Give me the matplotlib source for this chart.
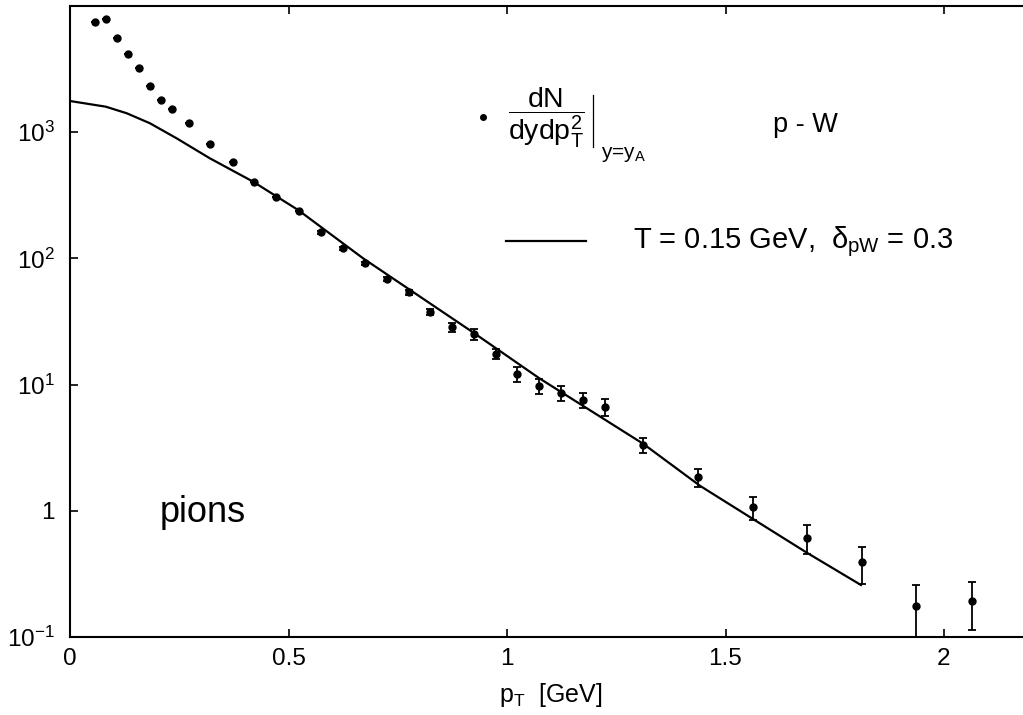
import matplotlib
matplotlib.use("Agg")
import matplotlib.pyplot as plt
from matplotlib.ticker import FixedLocator, FixedFormatter, NullLocator

plt.rcParams['font.family'] = ['Liberation Sans', 'DejaVu Sans']
plt.rcParams['mathtext.fontset'] = 'custom'
plt.rcParams['mathtext.rm'] = 'Liberation Sans'
plt.rcParams['mathtext.it'] = 'Liberation Sans'
plt.rcParams['mathtext.bf'] = 'Liberation Sans:bold'

# ---- data ----
pt_data = [0.057, 0.082, 0.107, 0.132, 0.159, 0.183, 0.208, 0.233, 0.272, 0.321,
           0.372, 0.422, 0.472, 0.523, 0.574, 0.625, 0.675, 0.725, 0.775, 0.824,
           0.873, 0.924, 0.975, 1.023, 1.074, 1.124, 1.173, 1.224, 1.312, 1.436,
           1.562, 1.687, 1.813, 1.937, 2.063]
dn_data = [7530, 7920, 5630, 4200, 3220, 2317, 1814, 1530, 1191, 807,
           578, 401, 305, 239, 161, 120, 91.4, 68.7, 53.8, 37.8,
           28.6, 25.0, 17.5, 12.2, 9.73, 8.51, 7.54, 6.67, 3.31, 1.84,
           1.06, 0.610, 0.389, 0.176, 0.192]
dn_err = [0, 0, 0, 0, 0, 0, 0, 0, 0, 0,
          0, 0, 0, 0, 4, 4, 3, 2.6, 2.2, 2.0,
          2.3, 2.3, 1.7, 1.65, 1.3, 1.15, 1.07, 1.0, 0.43, 0.31,
          0.22, 0.16, 0.127, 0.081, 0.08]

pt_theory = [0.0, 0.082, 0.130, 0.183, 0.244, 0.320, 0.419, 0.522, 0.671,
             0.923, 1.074, 1.312, 1.442, 1.564, 1.686, 1.810]
dn_theory = [1771, 1596, 1415, 1179, 896, 622, 406, 242, 100,
             25.8, 11.2, 3.38, 1.57, 0.853, 0.464, 0.257]

xticks = [0, 0.5, 1, 1.5, 2]
xticklabels = ['0', '0.5', '1', '1.5', '2']
yticks = [0.1, 1, 10, 100, 1000]
yticklabels = ['$10^{-1}$', '1', '$10^{1}$', '$10^{2}$', '$10^{3}$']

# ---- figure ----
W, H = 1023, 715
fig = plt.figure(figsize=(W / 100, H / 100), dpi=100)
x0, x1 = 70, 1031.4
y0, y1 = 636.7, 6.2
ax = fig.add_axes([x0 / W, (H - y0) / H, (x1 - x0) / W, (y0 - y1) / H])

ax.plot(pt_theory, dn_theory, color='black', lw=1.6, zorder=2)
ax.errorbar(pt_data, dn_data, yerr=dn_err, fmt='o', color='black',
            ms=5, elinewidth=1.3, capsize=2.8, capthick=1.3, zorder=3)

ax.set_yscale('log')
ax.set_xlim(0, 2.2)
ax.set_ylim(0.1, 1e4)

ax.xaxis.set_major_locator(FixedLocator(xticks))
ax.xaxis.set_major_formatter(FixedFormatter(xticklabels))
ax.yaxis.set_major_locator(FixedLocator(yticks))
ax.yaxis.set_major_formatter(FixedFormatter(yticklabels))
ax.yaxis.set_minor_locator(NullLocator())
ax.xaxis.set_minor_locator(NullLocator())

ax.tick_params(which='major', direction='in', top=True, right=True,
               length=6, width=1.2, labelsize=17.5)
ax.tick_params(axis='y', pad=11)
ax.tick_params(axis='x', pad=8)
for s in ax.spines.values():
    s.set_linewidth(1.5)

ax.set_xlabel(r'p$_\mathrm{T}$  [GeV]', fontsize=18, labelpad=8)

# ---- annotations / legend ----
def axf(px, py):
    return ((px - x0) / (x1 - x0), (y0 - py) / (y0 - y1))

ax.plot(*axf(483.3, 116.7), 'o', color='black', ms=4, transform=ax.transAxes,
        clip_on=False)
ax.text(*axf(508, 118), r'$\dfrac{\mathrm{dN}}{\mathrm{dydp}_\mathrm{T}^2}$',
        transform=ax.transAxes, fontsize=20.5, ha='left', va='center')
vb_top, vb_bot = axf(593.3, 95), axf(593.3, 147)
ax.plot([vb_top[0], vb_bot[0]], [vb_top[1], vb_bot[1]], color='black', lw=0.9,
        transform=ax.transAxes, clip_on=False)
ax.text(*axf(601, 158), r'y=y$_\mathrm{A}$', transform=ax.transAxes,
        fontsize=15, ha='left', va='baseline')
ax.text(*axf(773, 131.7), 'p - W', transform=ax.transAxes, fontsize=19.5,
        ha='left', va='baseline')
ls_a, ls_b = axf(506, 240.7), axf(585.6, 240.7)
ax.plot([ls_a[0], ls_b[0]], [ls_a[1], ls_b[1]],
        color='black', lw=1.6, transform=ax.transAxes, clip_on=False)
ax.text(*axf(633.4, 248.4), r'T = 0.15 GeV,  $\delta_{\mathrm{pW}}$ = 0.3',
        transform=ax.transAxes, fontsize=21, ha='left', va='baseline')
ax.text(*axf(160, 521.7), 'pions', transform=ax.transAxes, fontsize=26,
        ha='left', va='baseline')

fig.savefig('out.png', dpi=100)
